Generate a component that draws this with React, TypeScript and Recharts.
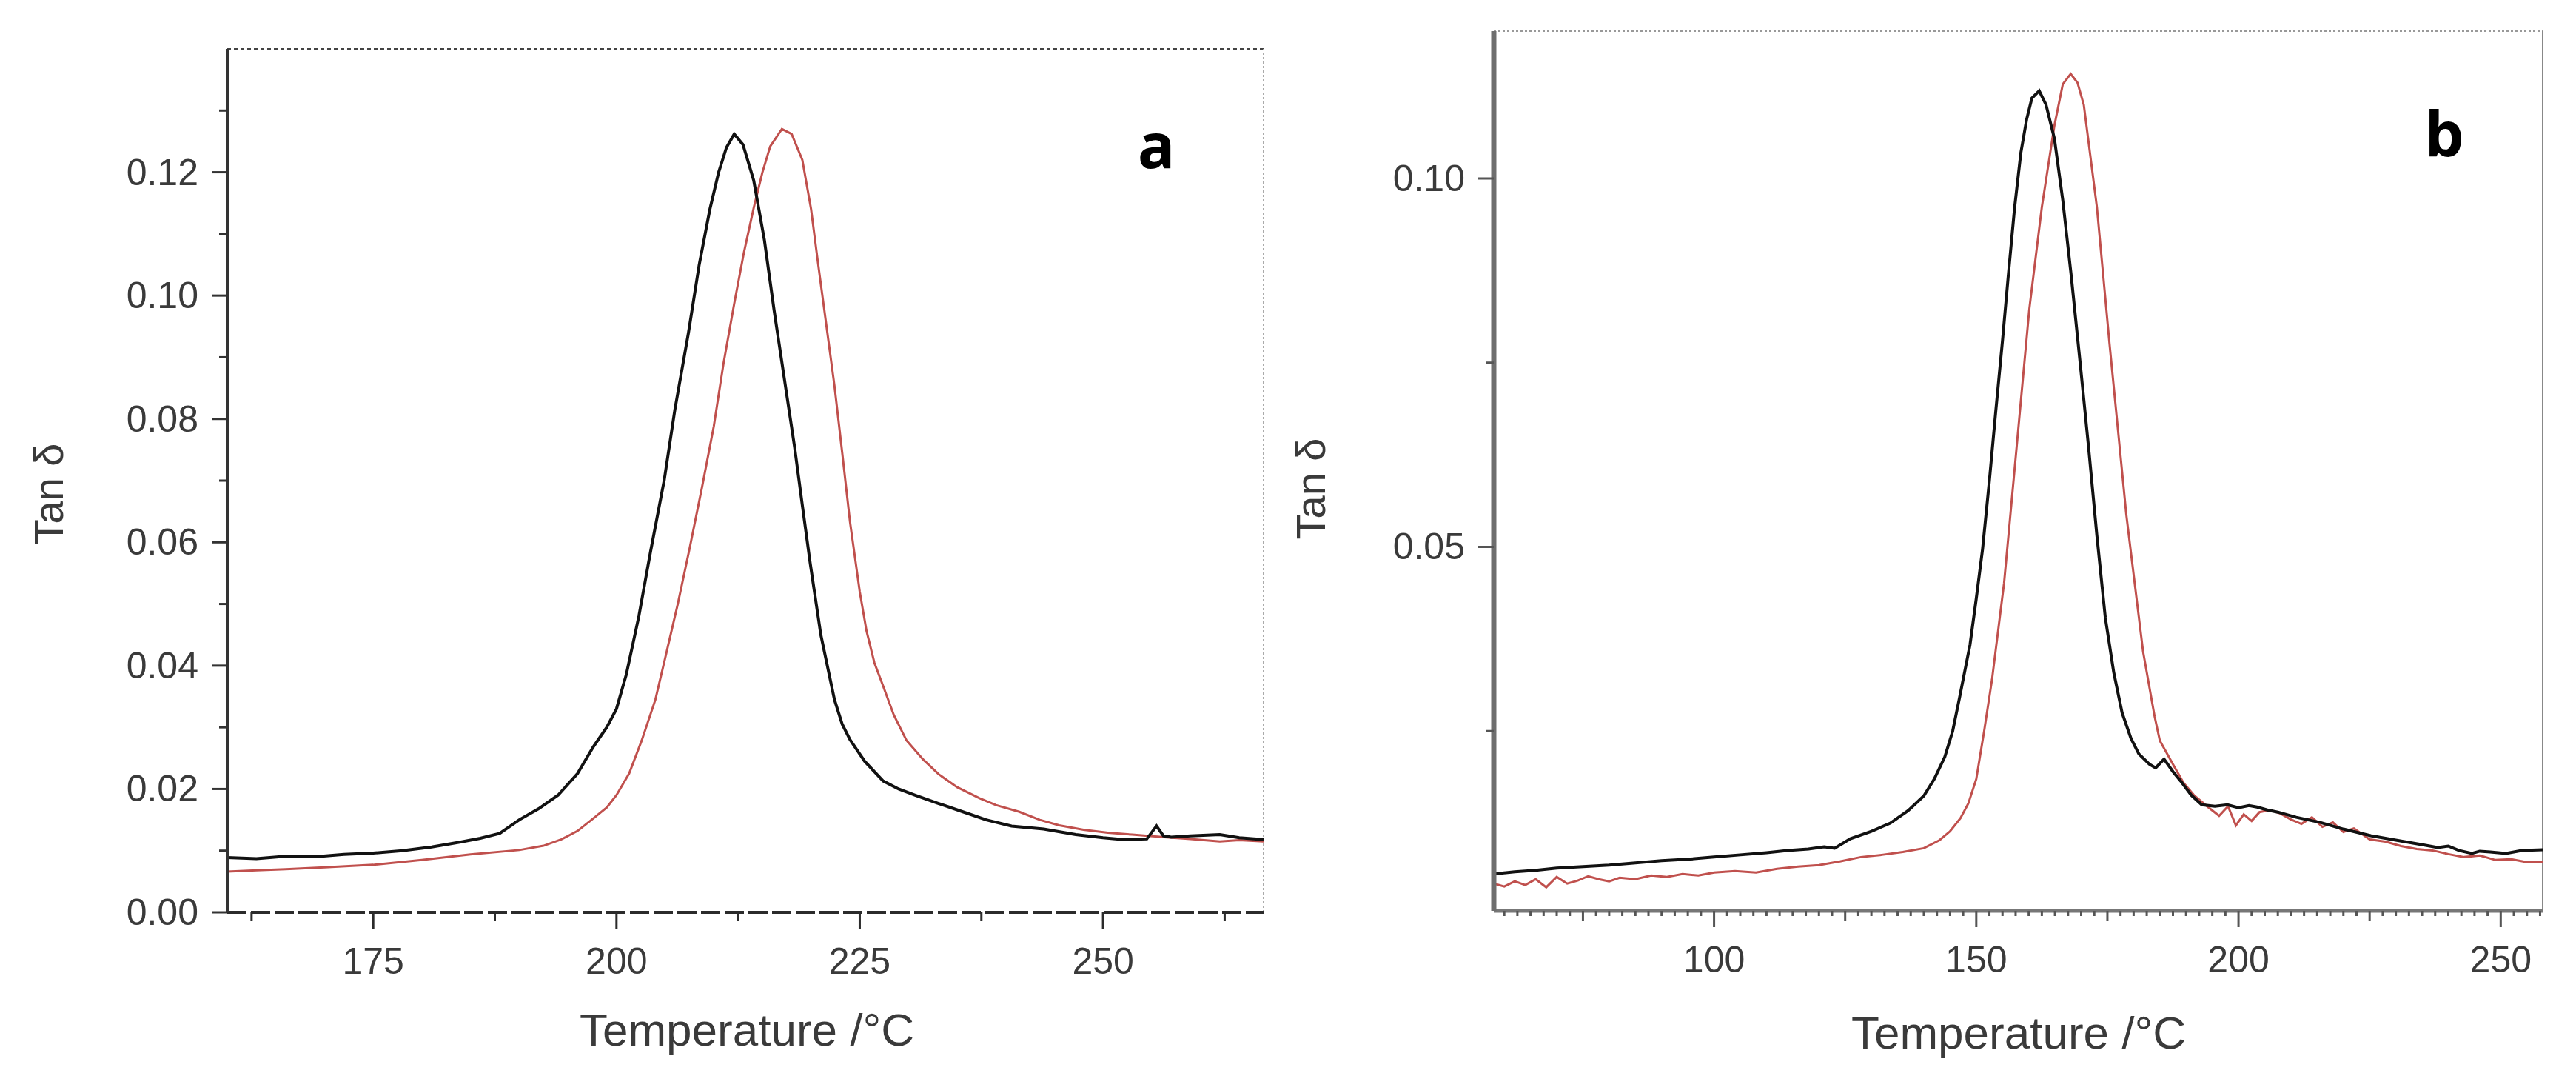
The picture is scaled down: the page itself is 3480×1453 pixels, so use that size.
import React from "react";
import { LineChart, Line, XAxis, YAxis, ReferenceLine } from "recharts";

// ---- panel a (tan delta vs temperature) ----
const aBlackT = [160, 163, 166, 169, 172, 175, 178, 181, 184, 186, 188, 190, 192, 194, 196, 197.6, 199, 200, 201, 202.3, 203.5, 204.9, 206, 207.4, 208.5, 209.6, 210.5, 211.3, 212.1, 213, 214.1, 215.2, 216.2, 217.3, 218.3, 219.1, 219.9, 221, 222.4, 223.2, 224, 225.5, 227.4, 229, 230.7, 233, 235.6, 238, 240.6, 243.9, 247.2, 250, 252.1, 254.5, 255.5, 256.2, 257, 259, 262, 264, 266.5];
const aBlackV = [0.0089, 0.0087, 0.0091, 0.0090, 0.0094, 0.0096, 0.0100, 0.0106, 0.0114, 0.0120, 0.0128, 0.0150, 0.0168, 0.0190, 0.0225, 0.0268, 0.0300, 0.0330, 0.0385, 0.0480, 0.0585, 0.0700, 0.0815, 0.0940, 0.1050, 0.1140, 0.1200, 0.1240, 0.1262, 0.1245, 0.1187, 0.1090, 0.0976, 0.0860, 0.0755, 0.0660, 0.0567, 0.0450, 0.0345, 0.0305, 0.0280, 0.0245, 0.0213, 0.0200, 0.0190, 0.0177, 0.0163, 0.0150, 0.0140, 0.0135, 0.0126, 0.0121, 0.0118, 0.0119, 0.0140, 0.0124, 0.0122, 0.0124, 0.0126, 0.0121, 0.0118];

const aRedT = [160, 163, 166, 170, 175, 180, 185, 190, 192.5, 194.3, 196, 197.6, 199, 200, 201.3, 202.6, 204, 205, 206.3, 207.5, 208.8, 210, 211, 212.1, 213.1, 214.1, 215, 215.8, 217, 218, 219.1, 220, 220.7, 221.5, 222.4, 223.2, 224, 225, 225.7, 226.5, 227.4, 228.5, 229.8, 231.5, 233.1, 235, 237.3, 239, 241.4, 243.5, 245.5, 248, 250.5, 253, 256.3, 259, 262, 264, 266.5];
const aRedV = [0.0066, 0.0068, 0.0070, 0.0073, 0.0077, 0.0085, 0.0094, 0.0101, 0.0108, 0.0118, 0.0132, 0.0152, 0.0170, 0.0190, 0.0225, 0.0279, 0.0345, 0.0412, 0.0500, 0.0589, 0.0690, 0.0788, 0.0890, 0.0987, 0.1070, 0.1142, 0.1200, 0.1242, 0.1270, 0.1262, 0.1220, 0.1140, 0.1054, 0.0960, 0.0854, 0.0745, 0.0633, 0.0520, 0.0456, 0.0405, 0.0367, 0.0320, 0.0279, 0.0248, 0.0224, 0.0203, 0.0185, 0.0174, 0.0163, 0.0150, 0.0141, 0.0134, 0.0129, 0.0126, 0.0122, 0.0119, 0.0115, 0.0117, 0.0115];

const aXTicks = [162.5, 175, 187.5, 200, 212.5, 225, 237.5, 250, 262.5];
const aXLabels = [175, 200, 225, 250];
const aYTicks = [0, 0.01, 0.02, 0.03, 0.04, 0.05, 0.06, 0.07, 0.08, 0.09, 0.1, 0.11, 0.12, 0.13];
const aYLabels = [0, 0.02, 0.04, 0.06, 0.08, 0.1, 0.12];

// ---- panel b ----
const bBlackT = [58, 62, 66, 70, 75, 80, 85, 90, 95, 100, 105, 110, 114, 118, 121, 123, 126, 130, 133.6, 137, 140, 142, 144, 145.5, 146.8, 148.8, 150, 151.2, 152.5, 153.7, 155, 156.1, 157.3, 158.5, 159.6, 160.6, 162, 163.3, 164.9, 166.5, 168.1, 169.8, 171.4, 173, 174.6, 176.2, 177.8, 179.5, 181, 183, 184.2, 185.8, 187.5, 189, 191, 193, 195.5, 197.9, 200, 202, 203.5, 205.5, 207.5, 211, 215.6, 220, 225.2, 230, 234.9, 238, 240, 242, 244.5, 246, 248, 251, 254, 258];
const bBlackV = [0.0056, 0.0059, 0.0061, 0.0064, 0.0066, 0.0068, 0.0071, 0.0074, 0.0076, 0.0079, 0.0082, 0.0085, 0.0088, 0.0090, 0.0093, 0.0091, 0.0104, 0.0114, 0.0125, 0.0142, 0.0162, 0.0185, 0.0215, 0.0250, 0.0295, 0.0367, 0.0430, 0.0497, 0.0590, 0.0683, 0.0780, 0.0868, 0.0960, 0.1035, 0.1080, 0.1109, 0.1119, 0.1100, 0.1054, 0.0970, 0.0868, 0.0750, 0.0636, 0.0515, 0.0404, 0.0330, 0.0275, 0.0240, 0.0219, 0.0205, 0.0200, 0.0212, 0.0195, 0.0182, 0.0163, 0.0150, 0.0148, 0.0150, 0.0146, 0.0149, 0.0147, 0.0143, 0.0140, 0.0133, 0.0126, 0.0117, 0.0108, 0.0102, 0.0096, 0.0092, 0.0094, 0.0088, 0.0084, 0.0087, 0.0086, 0.0084, 0.0088, 0.0089];

const bRedT = [58, 60, 62, 64, 66, 68, 70, 72, 74, 76, 78, 80, 82, 85, 88, 91, 94, 97, 100, 104, 108, 112, 116, 120, 124, 128, 132, 136, 140, 143, 145, 147, 148.5, 150, 151.5, 153, 155.3, 157.7, 160.1, 162.5, 164.9, 166.5, 168, 169.3, 170.5, 173, 175.4, 178.6, 181.8, 184, 185, 187.5, 189.5, 191.5, 194, 196.3, 198, 199.5, 201, 202.5, 204, 206, 208, 210, 212, 214, 216, 218, 220, 222, 225, 228, 231, 234, 237, 240, 243, 246, 249, 252, 255, 258];
const bRedV = [0.0043, 0.0039, 0.0046, 0.0041, 0.0049, 0.0038, 0.0052, 0.0043, 0.0047, 0.0053, 0.0049, 0.0046, 0.0051, 0.0049, 0.0054, 0.0052, 0.0056, 0.0054, 0.0058, 0.0060, 0.0058, 0.0063, 0.0066, 0.0068, 0.0073, 0.0079, 0.0082, 0.0086, 0.0091, 0.0102, 0.0114, 0.0132, 0.0152, 0.0185, 0.0250, 0.0320, 0.0451, 0.0636, 0.0822, 0.0961, 0.1072, 0.1128, 0.1142, 0.1130, 0.1100, 0.0961, 0.0776, 0.0544, 0.0358, 0.0270, 0.0237, 0.0205, 0.0180, 0.0163, 0.0148, 0.0135, 0.0148, 0.0122, 0.0137, 0.0128, 0.0140, 0.0143, 0.0138, 0.0130, 0.0124, 0.0133, 0.0120, 0.0126, 0.0113, 0.0118, 0.0103, 0.0100, 0.0094, 0.0090, 0.0088, 0.0083, 0.0079, 0.0081, 0.0075, 0.0076, 0.0072, 0.0072];

const bXLabels = [100, 150, 200, 250];
const bXMid = [75, 125, 175, 225];
const bYTicks = [0.025, 0.05, 0.075, 0.1];
const bYLabels = [0.05, 0.1];

const rows = (t: number[], v: number[]) => t.map((x, i) => ({ t: x, v: v[i] }));

const bXTicks: number[] = [];
for (let t = 60; t <= 257.5; t += 2.5) bXTicks.push(t);

const FONT = "'Liberation Sans', Arial, sans-serif";
const TEXT = "#3a3a3a";
const has = (list: number[], v: number) => list.some((m) => Math.abs(m - v) < 1e-6);

function xTick(labels: number[], mids: number[], color: string, smallLen: number) {
  return (props: any) => {
    const { x, y, payload } = props;
    const v = payload.value;
    const len = has(labels, v) ? 22 : has(mids, v) ? 14 : smallLen;
    return (
      <g>
        <line x1={x} x2={x} y1={y} y2={y + len} stroke={color} strokeWidth={3} />
        {has(labels, v) && (
          <text x={x} y={y + 66} textAnchor="middle" dominantBaseline="central" fontFamily={FONT} fontSize={50} fill={TEXT}>
            {String(v)}
          </text>
        )}
      </g>
    );
  };
}

function yTick(labels: number[], color: string) {
  return (props: any) => {
    const { x, y, payload } = props;
    const v = payload.value;
    const major = has(labels, v);
    return (
      <g>
        <line x1={x} x2={x - (major ? 21 : 11)} y1={y} y2={y} stroke={color} strokeWidth={3} />
        {major && (
          <text x={x - 39} y={y} textAnchor="end" dominantBaseline="central" fontFamily={FONT} fontSize={50} fill={TEXT}>
            {v.toFixed(2)}
          </text>
        )}
      </g>
    );
  };
}

export default function App() {
  return (
    <div style={{ position: "relative", width: 3480, height: 1453, background: "#fff", overflow: "hidden" }}>
      <style>{"body{margin:0}"}</style>

      <div style={{ position: "absolute", left: 0, top: 0 }}>
        <LineChart width={1800} height={1453} margin={{ top: 66, right: 93, left: 107, bottom: 121 }}>
          <XAxis type="number" dataKey="t" domain={[160, 266.5]} ticks={aXTicks} interval={0} allowDataOverflow
            height={100} tickSize={0} tickMargin={0} tickLine={false}
            axisLine={{ stroke: "#2b2b2b", strokeWidth: 4, strokeDasharray: "26 6" }}
            tick={xTick(aXLabels, [], "#2b2b2b", 12)} />
          <YAxis type="number" domain={[0, 0.14]} ticks={aYTicks} interval={0} allowDataOverflow
            width={200} tickSize={0} tickMargin={0} tickLine={false}
            axisLine={{ stroke: "#333", strokeWidth: 4 }}
            tick={yTick(aYLabels, "#333")} />
          <ReferenceLine y={0.14} stroke="#444" strokeWidth={2} strokeDasharray="5 4" />
          <ReferenceLine x={266.5} stroke="#aaa" strokeWidth={2} strokeDasharray="3 3" />
          <Line data={rows(aRedT, aRedV)} dataKey="v" type="linear" dot={false} stroke="#c0504d" strokeWidth={3} isAnimationActive={false} />
          <Line data={rows(aBlackT, aBlackV)} dataKey="v" type="linear" dot={false} stroke="#111" strokeWidth={4} isAnimationActive={false} />
        </LineChart>
      </div>

      <div style={{ position: "absolute", left: 1750, top: 0 }}>
        <LineChart width={1730} height={1453} margin={{ top: 42, right: 45, left: 68, bottom: 123 }}>
          <XAxis type="number" dataKey="t" domain={[58, 258]} ticks={bXTicks} interval={0} allowDataOverflow
            height={100} tickSize={0} tickMargin={0} tickLine={false}
            axisLine={{ stroke: "#777", strokeWidth: 5 }}
            tick={xTick(bXLabels, bXMid, "#555", 7)} />
          <YAxis type="number" domain={[0.0006, 0.12]} ticks={bYTicks} interval={0} allowDataOverflow
            width={200} tickSize={0} tickMargin={0} tickLine={false}
            axisLine={{ stroke: "#6e6e6e", strokeWidth: 7 }}
            tick={yTick(bYLabels, "#555")} />
          <ReferenceLine y={0.12} stroke="#999" strokeWidth={2} strokeDasharray="3 3" />
          <ReferenceLine x={258} stroke="#888" strokeWidth={2} />
          <Line data={rows(bRedT, bRedV)} dataKey="v" type="linear" dot={false} stroke="#c0504d" strokeWidth={3} isAnimationActive={false} />
          <Line data={rows(bBlackT, bBlackV)} dataKey="v" type="linear" dot={false} stroke="#111" strokeWidth={4} isAnimationActive={false} />
        </LineChart>
      </div>

      <svg width={3480} height={1453} style={{ position: "absolute", left: 0, top: 0, pointerEvents: "none" }}>
        <g fontFamily={FONT} fill={TEXT}>
          <text x={65} y={667} fontSize={56} textAnchor="middle" dominantBaseline="central" transform="rotate(-90 65 667)">Tan δ</text>
          <text x={1009} y={1390} fontSize={62} textAnchor="middle" dominantBaseline="central">Temperature /°C</text>
          <text x={1770} y={660} fontSize={56} textAnchor="middle" dominantBaseline="central" transform="rotate(-90 1770 660)">Tan δ</text>
          <text x={2727} y={1394} fontSize={62} textAnchor="middle" dominantBaseline="central">Temperature /°C</text>
        </g>
        <g fontFamily="'Open Sans', 'Noto Sans', sans-serif" fontWeight={700} fill="#000" fontSize={84} textAnchor="middle">
          <text x={1562} y={227}>a</text>
          <text x={3302} y={211}>b</text>
        </g>
      </svg>
    </div>
  );
}
